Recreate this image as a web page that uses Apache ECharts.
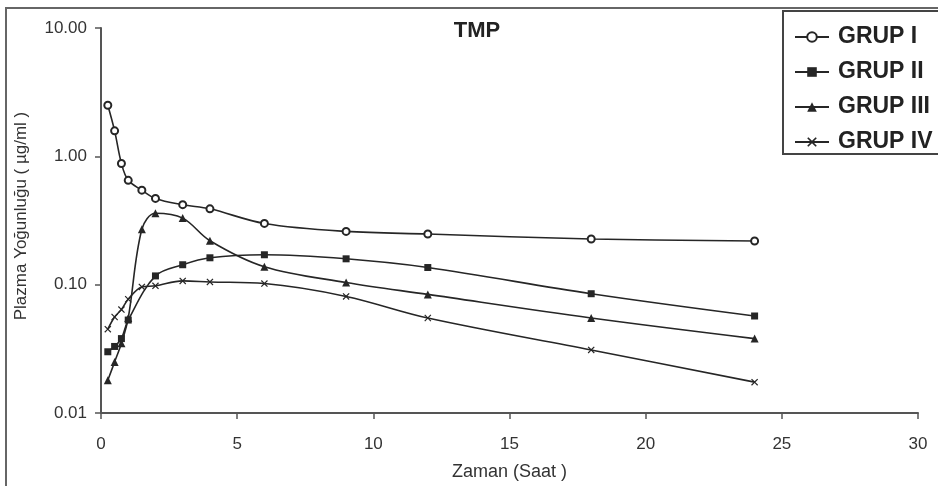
<!DOCTYPE html>
<html><head><meta charset="utf-8">
<script src="https://cdn.jsdelivr.net/npm/echarts@6/dist/echarts.min.js"></script>
<style>html,body{margin:0;padding:0;background:#fff}#c{width:938px;height:486px}</style>
</head><body><div id="c"></div>
<script>
const seriesNames = ['GRUP I', 'GRUP II', 'GRUP III', 'GRUP IV'];
const timesI   = [0.25, 0.5, 0.75, 1, 1.5, 2, 3, 4, 6, 9, 12, 18, 24];
const grupI    = [2.5, 1.58, 0.88, 0.65, 0.545, 0.47, 0.42, 0.39, 0.30, 0.26, 0.248, 0.227, 0.219];
const timesII  = [0.25, 0.5, 0.75, 1, 2, 3, 4, 6, 9, 12, 18, 24];
const grupII   = [0.030, 0.033, 0.038, 0.053, 0.117, 0.143, 0.162, 0.171, 0.159, 0.136, 0.085, 0.057];
const timesIII = [0.25, 0.5, 0.75, 1, 1.5, 2, 3, 4, 6, 9, 12, 18, 24];
const grupIII  = [0.018, 0.025, 0.035, 0.055, 0.27, 0.36, 0.33, 0.22, 0.138, 0.104, 0.084, 0.055, 0.038];
const timesIV  = [0.25, 0.5, 0.75, 1, 1.5, 2, 3, 4, 6, 9, 12, 18, 24];
const grupIV   = [0.045, 0.056, 0.064, 0.077, 0.096, 0.098, 0.107, 0.105, 0.102, 0.081, 0.055, 0.031, 0.0174];
const yTickLabels = {0.01: '0.01', 0.1: '0.10', 1: '1.00', 10: '10.00'};
const titleText = 'TMP';
const xTitle = 'Zaman (Saat )';
const yTitle = 'Plazma Yoğunluğu ( µg/ml )';

const pair = (t, v) => t.map((x, i) => [x, v[i]]);
const xMark = 'path://M0,1.2L1.2,0L5,3.8L8.8,0L10,1.2L6.2,5L10,8.8L8.8,10L5,6.2L1.2,10L0,8.8L3.8,5Z';
const lineCol = '#262626';
const FF = 'Liberation Sans, Arial, sans-serif';
function mk(name, data, symbol, size) {
  return {
    name, type: 'line', data, smooth: 0.35, symbol, symbolSize: size,
    showAllSymbol: true,
    lineStyle: {color: lineCol, width: 1.6},
    itemStyle: {color: lineCol, borderWidth: symbol.indexOf('empty') === 0 ? 1.3 : 0},
    emphasis: {disabled: true}
  };
}
const chart = echarts.init(document.getElementById('c'));
chart.setOption({
  animation: false,
  backgroundColor: '#fff',
  grid: {left: 101, right: 20, top: 28, bottom: 70},
  xAxis: {
    type: 'value', min: 0, max: 30, interval: 5,
    axisLine: {show: true, lineStyle: {color: '#555', width: 2}},
    axisTick: {show: true, length: 6, lineStyle: {color: '#555', width: 1.5}},
    splitLine: {show: false},
    axisLabel: {color: '#333', fontFamily: FF, fontSize: 17, margin: 23},
    name: xTitle, nameLocation: 'middle', nameGap: 50,
    nameTextStyle: {color: '#333', fontFamily: FF, fontSize: 18}
  },
  yAxis: {
    type: 'log', min: 0.01, max: 10, logBase: 10,
    axisLine: {show: true, lineStyle: {color: '#555', width: 2}},
    axisTick: {show: true, length: 6, lineStyle: {color: '#555', width: 1.5}},
    minorTick: {show: false},
    splitLine: {show: false},
    axisLabel: {color: '#333', fontFamily: FF, fontSize: 17, margin: 14,
      formatter: v => yTickLabels[v] || v.toFixed(2)}
  },
  legend: {
    orient: 'vertical', left: 789, top: 20, itemGap: 11, itemWidth: 34, itemHeight: 12,
    data: seriesNames,
    textStyle: {color: '#222', fontFamily: FF, fontSize: 23, fontWeight: 'bold', lineHeight: 24, padding: [0, 0, 0, 4]},
    selectedMode: false
  },
  graphic: [
    {type: 'rect', shape: {x: 6, y: 8, width: 1000, height: 1000}, style: {fill: 'none', stroke: '#666', lineWidth: 2}, silent: true},
    {type: 'rect', shape: {x: 783, y: 11, width: 200, height: 143}, style: {fill: '#fff', stroke: '#444', lineWidth: 2}, silent: true, z: 0},
    {type: 'text', x: 477, y: 31, style: {text: titleText, fill: '#222', font: 'bold 22px ' + FF, textAlign: 'center', textVerticalAlign: 'middle'}, silent: true},
    {type: 'text', x: 21, y: 216, rotation: Math.PI / 2, style: {text: yTitle, fill: '#333', font: '17px ' + FF, textAlign: 'center', textVerticalAlign: 'middle'}, silent: true}
  ],
  series: [
    mk(seriesNames[0], pair(timesI, grupI), 'emptyCircle', 7),
    mk(seriesNames[1], pair(timesII, grupII), 'rect', 7),
    mk(seriesNames[2], pair(timesIII, grupIII), 'triangle', 8),
    mk(seriesNames[3], pair(timesIV, grupIV), xMark, 7)
  ]
});
</script></body></html>
